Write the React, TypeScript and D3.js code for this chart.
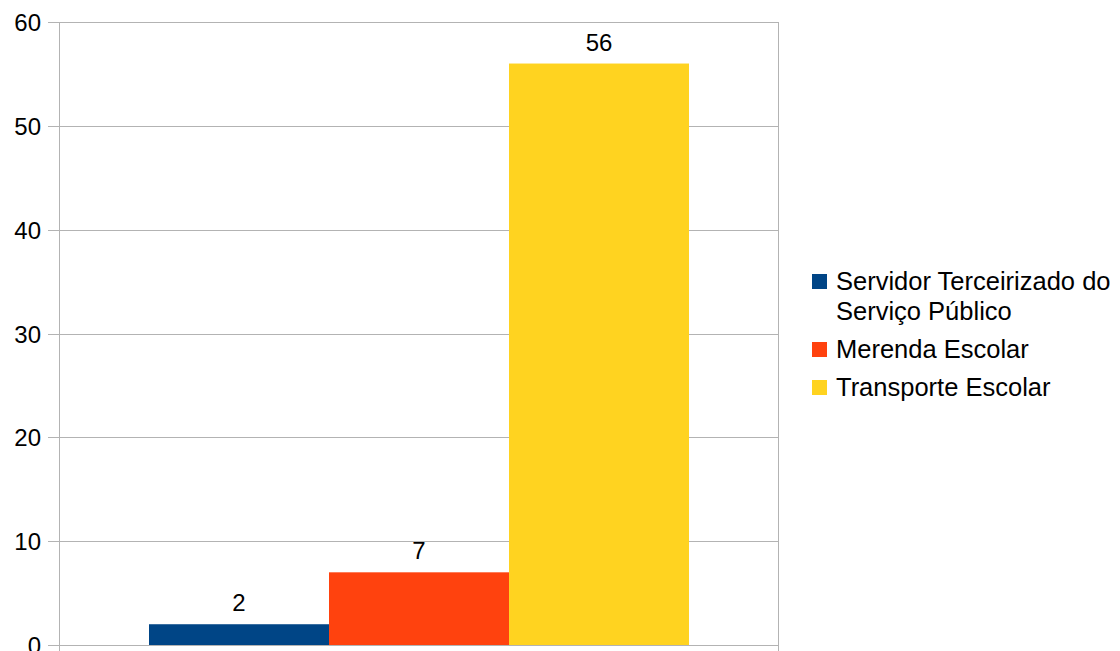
import React from "react";
import * as d3 from "d3";

const categories = ["Servidor Terceirizado do Serviço Público", "Merenda Escolar", "Transporte Escolar"];
const legendLines = [["Servidor Terceirizado do", "Serviço Público"], ["Merenda Escolar"], ["Transporte Escolar"]];
const values = [2, 7, 56];
const colors = ["#004586", "#ff420e", "#ffd320"];
const yTicks = [0, 10, 20, 30, 40, 50, 60];

const W = 1120;
const H = 651;
const plot = { left: 60, right: 778, top: 22, bottom: 645 };
const FONT = "'Liberation Sans', Arial, sans-serif";
const groupWidth = 540;

export default function App() {
  const y = d3.scaleLinear().domain([0, 60]).range([plot.bottom, plot.top]);
  // one category group, centered in the plot; the three series sit side by side within it
  const mid = (plot.left + plot.right) / 2;
  const sub = d3
    .scaleBand<string>()
    .domain(categories)
    .range([mid - groupWidth / 2, mid + groupWidth / 2]);

  return (
    <svg
      width={W}
      height={H}
      style={{ position: "absolute", left: 0, top: 0, background: "#fff" }}
      fontFamily={FONT}
    >
      {yTicks.map((t) => (
        <g key={t}>
          <line
            x1={48}
            x2={plot.right}
            y1={Math.round(y(t)) + 0.5}
            y2={Math.round(y(t)) + 0.5}
            stroke="#b3b3b3"
            strokeWidth={1}
          />
          <text x={41} y={y(t) + 9} textAnchor="end" fontSize={24} fill="#000">
            {t}
          </text>
        </g>
      ))}
      <line x1={plot.left - 0.5} x2={plot.left - 0.5} y1={plot.top} y2={plot.bottom + 10} stroke="#b3b3b3" />
      <line x1={plot.right + 0.5} x2={plot.right + 0.5} y1={plot.top} y2={plot.bottom + 10} stroke="#b3b3b3" />
      {categories.map((c, i) => (
        <g key={c}>
          <rect
            x={sub(c)}
            y={y(values[i])}
            width={sub.bandwidth()}
            height={y(0) - y(values[i])}
            fill={colors[i]}
          />
          <text
            x={(sub(c) ?? 0) + sub.bandwidth() / 2}
            y={y(values[i]) - 13}
            textAnchor="middle"
            fontSize={24}
            fill="#000"
          >
            {values[i]}
          </text>
        </g>
      ))}
      {(() => {
        let yy = 290;
        return legendLines.map((lines, i) => {
          const top = yy;
          yy += lines.length * 30 + 8;
          return (
            <g key={i}>
              <rect x={812} y={top - 16} width={15} height={15} fill={colors[i]} />
              {lines.map((l, j) => (
                <text key={j} x={836} y={top + j * 30} fontSize={25.5} fill="#000">
                  {l}
                </text>
              ))}
            </g>
          );
        });
      })()}
    </svg>
  );
}
